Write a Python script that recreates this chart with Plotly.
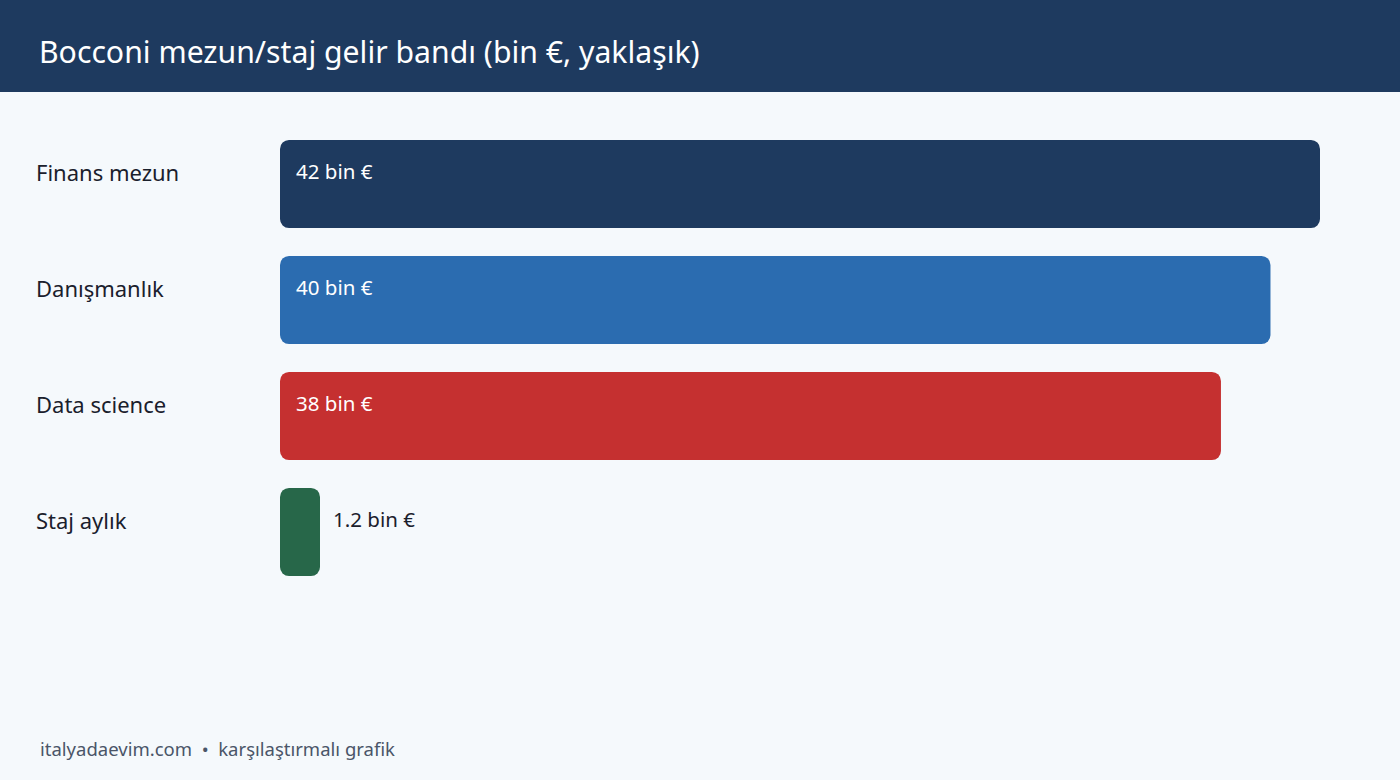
import plotly.graph_objects as go

# data
categories = ["Finans mezun", "Danışmanlık", "Data science", "Staj aylık"]
values = [42, 40, 38, 1.2]
value_labels = ["42 bin €", "40 bin €", "38 bin €", "1.2 bin €"]
bar_colors = ["#1e3a5f", "#2b6cb0", "#c53030", "#276749"]

title = "Bocconi mezun/staj gelir bandı (bin €, yaklaşık)"
footer = "italyadaevim.com  •  karşılaştırmalı grafik"

W, H = 1400, 780
ML, MR, MT, MB = 280, 80, 126, 190
plot_w = W - ML - MR
plot_h = H - MT - MB
x_max = max(values)

# very small bars get a minimum visible width (40px), label goes outside
min_len = x_max * 40 / plot_w
bar_len = [max(v, min_len) for v in values]

FONT = "Noto Sans"
BG = "#f5f9fc"
DARK = "#1a202c"

# explicit base -> plotly rounds all four corners
fig = go.Figure(go.Bar(
    x=bar_len, base=[0] * len(bar_len), y=categories, orientation="h",
    marker=dict(color=bar_colors, cornerradius=9, line=dict(width=0)),
    width=0.76, hoverinfo="skip",
))

# header band and footer in paper coords
def py(px):
    return (H - MB - px) / plot_h

def px_(x):
    return (x - ML) / plot_w

fig.add_shape(type="rect", xref="paper", yref="paper",
              x0=px_(0), x1=px_(W), y0=py(92), y1=py(0),
              fillcolor="#1e3a5f", line=dict(width=0), layer="below")

annotations = [
    dict(text=title, xref="paper", yref="paper", x=px_(37), y=py(52),
         xanchor="left", yanchor="middle", showarrow=False,
         font=dict(family=FONT, size=30.2, color="white")),
    dict(text=footer, xref="paper", yref="paper", x=px_(38), y=py(748),
         xanchor="left", yanchor="middle", showarrow=False,
         font=dict(family=FONT, size=18.5, color="#4a5568")),
]

for cat, v, lab, ln in zip(categories, values, value_labels, bar_len):
    annotations.append(dict(
        text=cat, xref="paper", yref="y", x=px_(34), y=cat,
        xanchor="left", yanchor="middle", yshift=12, showarrow=False,
        font=dict(family=FONT, size=22, color=DARK)))
    inside = v > x_max * 0.2
    annotations.append(dict(
        text=lab, xref="x", yref="y", x=0 if inside else ln, y=cat,
        xanchor="left", yanchor="middle", xshift=14 if inside else 11,
        yshift=13, showarrow=False,
        font=dict(family=FONT, size=20.5, color="white" if inside else DARK)))

fig.update_layout(
    width=W, height=H,
    margin=dict(l=ML, r=MR, t=MT, b=MB),
    paper_bgcolor=BG, plot_bgcolor=BG,
    showlegend=False,
    annotations=annotations,
    xaxis=dict(range=[0, x_max], visible=False, fixedrange=True),
    yaxis=dict(autorange="reversed", visible=False, fixedrange=True),
)

fig.write_html("out.html", config={"displayModeBar": False},
               post_script="document.body.style.margin='0';document.body.style.background='" + BG + "';")
